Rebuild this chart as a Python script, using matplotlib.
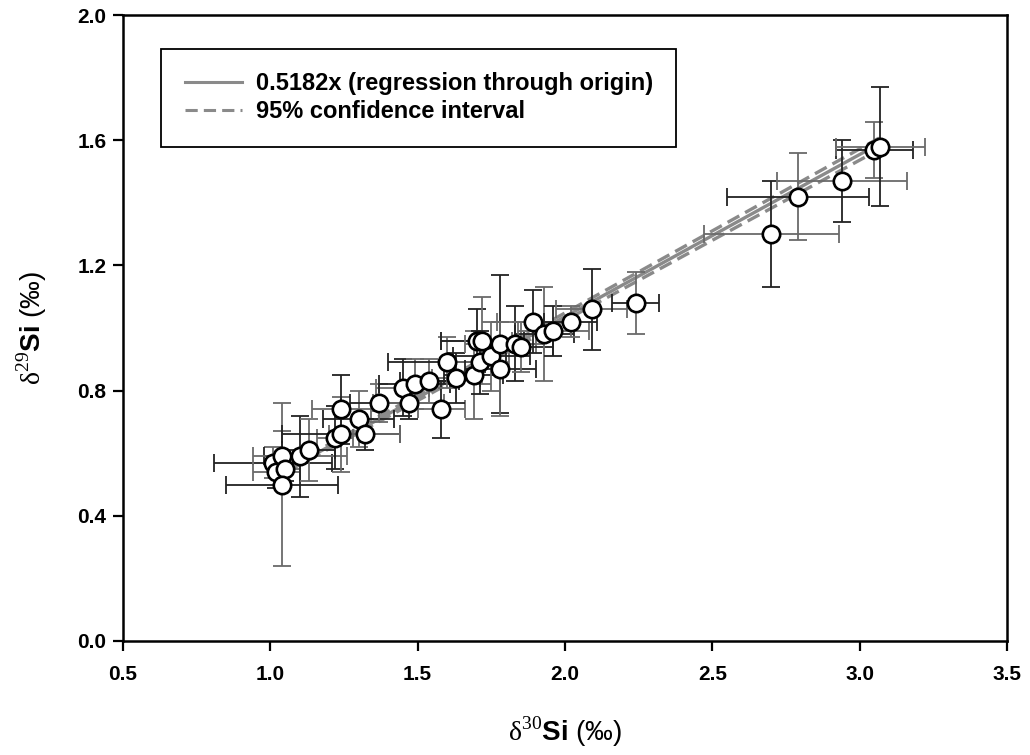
import numpy as np
import matplotlib
matplotlib.use("Agg")
import matplotlib.pyplot as plt
from matplotlib.lines import Line2D

plt.rcParams['font.family'] = ['Liberation Sans', 'DejaVu Sans']
plt.rcParams['mathtext.fontset'] = 'custom'
plt.rcParams['mathtext.rm'] = 'Liberation Serif'
plt.rcParams['mathtext.bf'] = 'Liberation Sans:bold'

# ── Data ──────────────────────────────────────────────────────────────────
d30 = [1.01, 1.02, 1.04, 1.05, 1.04, 1.10, 1.13, 1.22, 1.24, 1.24,
       1.30, 1.32, 1.37, 1.45, 1.49, 1.47, 1.54, 1.58, 1.60, 1.63,
       1.69, 1.70, 1.72, 1.71, 1.75, 1.78, 1.78, 1.83, 1.85, 1.89,
       1.93, 1.96, 2.02, 2.09, 2.24, 2.70, 2.79, 2.94, 3.05, 3.07]
d29 = [0.57, 0.54, 0.59, 0.55, 0.50, 0.59, 0.61, 0.65, 0.66, 0.74,
       0.71, 0.66, 0.76, 0.81, 0.82, 0.76, 0.83, 0.74, 0.89, 0.84,
       0.85, 0.96, 0.96, 0.89, 0.91, 0.95, 0.87, 0.95, 0.94, 1.02,
       0.98, 0.99, 1.02, 1.06, 1.08, 1.30, 1.42, 1.47, 1.57, 1.58]
d30_err = [0.20, 0.08, 0.06, 0.05, 0.19, 0.16, 0.09, 0.06, 0.20, 0.10,
           0.12, 0.12, 0.10, 0.09, 0.12, 0.12, 0.10, 0.08, 0.20, 0.08,
           0.10, 0.12, 0.14, 0.10, 0.13, 0.12, 0.12, 0.10, 0.11, 0.12,
           0.10, 0.12, 0.09, 0.12, 0.08, 0.23, 0.24, 0.22, 0.13, 0.15]
d29_err = [0.05, 0.05, 0.08, 0.04, 0.26, 0.13, 0.10, 0.10, 0.12, 0.11,
           0.09, 0.05, 0.06, 0.09, 0.08, 0.05, 0.07, 0.09, 0.08, 0.08,
           0.14, 0.10, 0.14, 0.10, 0.11, 0.22, 0.15, 0.12, 0.08, 0.10,
           0.15, 0.08, 0.05, 0.13, 0.10, 0.17, 0.14, 0.13, 0.09, 0.19]

slope = 0.5182
slope_ci = 0.006

x_ticks = [0.5, 1.0, 1.5, 2.0, 2.5, 3.0, 3.5]
y_ticks = [0.0, 0.4, 0.8, 1.2, 1.6, 2.0]

# ── Figure ────────────────────────────────────────────────────────────────
fig = plt.figure(figsize=(10.3, 7.55), dpi=100)
ax = fig.add_axes([0.1194, 0.151, 0.8583, 0.829])

d30 = np.array(d30)
d29 = np.array(d29)

# regression line + CI
xl = np.linspace(d30.min(), d30.max(), 50)
ax.plot(xl, slope * xl, color='#8a8a8a', lw=2.4, zorder=2)
ax.plot(xl, (slope + slope_ci) * xl, color='#8a8a8a', lw=2.4, ls=(0, (4, 2)), zorder=2)
ax.plot(xl, (slope - slope_ci) * xl, color='#8a8a8a', lw=2.4, ls=(0, (4, 2)), zorder=2)

# error bars (alternating shades as in the original)
for i in range(len(d30)):
    hc = '#222222' if i % 2 == 0 else '#6a6a6a'
    vc = '#6a6a6a' if i % 2 == 0 else '#222222'
    ax.errorbar(d30[i], d29[i], xerr=d30_err[i], fmt='none', ecolor=hc,
                elinewidth=1.3, capsize=6.5, capthick=1.3, zorder=3)
    ax.errorbar(d30[i], d29[i], yerr=d29_err[i], fmt='none', ecolor=vc,
                elinewidth=1.3, capsize=6.5, capthick=1.3, zorder=3)

ax.plot(d30, d29, 'o', ms=12.5, mfc='white', mec='black', mew=1.9, zorder=4)

ax.set_xlim(0.5, 3.5)
ax.set_ylim(0.0, 2.0)
ax.set_xticks(x_ticks)
ax.set_yticks(y_ticks)
ax.set_xticklabels([f"{v:.1f}" for v in x_ticks], fontweight='bold', fontsize=15)
ax.set_yticklabels([f"{v:.1f}" for v in y_ticks], fontweight='bold', fontsize=15)
ax.tick_params(axis='x', direction='out', length=7, width=1.6, pad=10)
ax.tick_params(axis='y', direction='out', length=7, width=1.6, pad=5)
for s in ax.spines.values():
    s.set_linewidth(1.8)

ax.set_xlabel(r'$\mathrm{\delta}^{30}$$\mathbf{Si}$ (‰)', fontsize=20, labelpad=22)
ax.set_ylabel(r'$\mathrm{\delta}^{29}$$\mathbf{Si}$ (‰)', fontsize=20, labelpad=20)

handles = [Line2D([], [], color='#8a8a8a', lw=2.2),
           Line2D([], [], color='#8a8a8a', lw=2.2, ls=(0, (4, 2)))]
labels = ['0.5182x (regression through origin)', '95% confidence interval']
leg = ax.legend(handles, labels, loc='upper left', bbox_to_anchor=(0.03, 0.965),
                fancybox=False, edgecolor='black', framealpha=1,
                prop={'weight': 'bold', 'size': 17}, handlelength=2.4,
                borderpad=1.0, labelspacing=0.2, handletextpad=0.6)
leg.get_frame().set_linewidth(1.3)

fig.savefig('out.png', dpi=100)
